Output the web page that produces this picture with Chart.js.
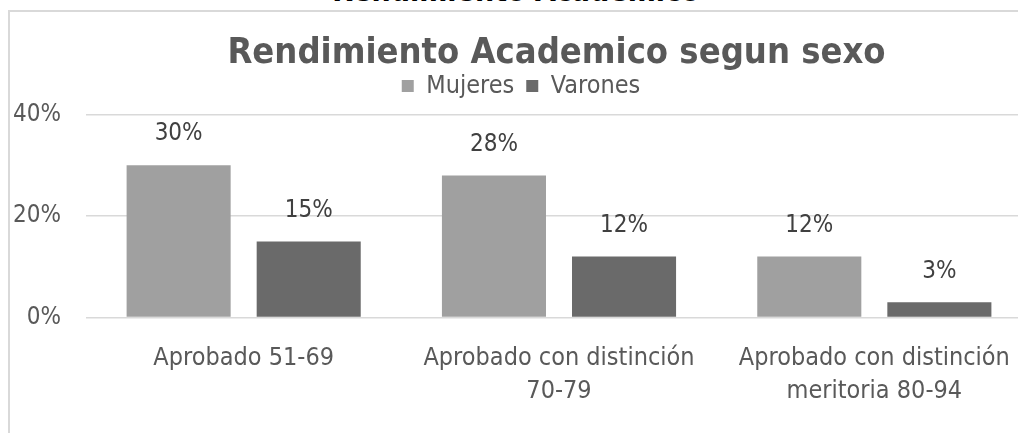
<!DOCTYPE html>
<html>
<head>
<meta charset="utf-8">
<script src="https://cdn.jsdelivr.net/npm/chart.js@4.4.1/dist/chart.umd.min.js"></script>
<style>
  html, body { margin: 0; padding: 0; background: #fff; width: 1018px; height: 433px; overflow: hidden; position: relative; }
  #toptitle { position: absolute; left: 0; top: -27px; width: 1032px; text-align: center;
    font: bold 30px "DejaVu Sans Condensed", sans-serif; color: #000; white-space: nowrap; }
  #frame { position: absolute; left: 8px; top: 10px; width: 1100px; height: 500px; border: 2px solid #d9d9d9; box-sizing: border-box; }
  #wrap { position: absolute; left: 10px; top: 12px; width: 1060px; height: 440px; }
</style>
</head>
<body>
<div id="toptitle">Rendimiento Academico</div>
<div id="frame"></div>
<div id="wrap"><canvas id="c" width="1060" height="440"></canvas></div>
<script>
const categories = [["Aprobado 51-69"], ["Aprobado con distinción", "70-79"], ["Aprobado con distinción", "meritoria 80-94"]];
const seriesNames = ["Mujeres", "Varones"];
const mujeres = [30, 28, 12];
const varones = [15, 12, 3];
const yTicks = [0, 20, 40];

const FONT = '"DejaVu Sans Condensed", sans-serif';

const labelPlugin = {
  id: 'barLabels',
  afterDatasetsDraw(chart) {
    const ctx = chart.ctx;
    ctx.save();
    ctx.font = '24px ' + FONT;
    ctx.fillStyle = '#404040';
    ctx.textAlign = 'center';
    ctx.textBaseline = 'middle';
    chart.data.datasets.forEach((ds, i) => {
      chart.getDatasetMeta(i).data.forEach((bar, j) => {
        ctx.fillText(ds.data[j] + '%', bar.x, bar.y - 31);
      });
    });
    ctx.restore();
  }
};

const boxTweaks = {
  id: 'boxTweaks',
  afterInit(chart) {
    const lg = chart.legend;
    if (lg) {
      const orig = lg.fit.bind(lg);
      lg.fit = function () { orig(); this.height = 53; };
    }
    const tb = chart.titleBlock;
    if (tb) {
      const od = tb.draw.bind(tb);
      tb.draw = function () { const c = this.ctx; c.save(); c.translate(35.5, 0); od(); c.restore(); };
    }
  }
};

new Chart(document.getElementById('c'), {
  type: 'bar',
  data: {
    labels: categories,
    datasets: [
      { label: seriesNames[0], data: mujeres, backgroundColor: '#a0a0a0', borderWidth: 0 },
      { label: seriesNames[1], data: varones, backgroundColor: '#6a6a6a', borderWidth: 0 }
    ]
  },
  options: {
    responsive: false,
    animation: false,
    events: [],
    layout: { padding: { left: 0, right: 38, top: 10, bottom: 0 } },
    datasets: { bar: { categoryPercentage: 0.825, barPercentage: 0.8 } },
    plugins: {
      title: {
        display: true,
        text: 'Rendimiento Academico segun sexo',
        color: '#595959',
        font: { family: FONT, size: 36, weight: 'bold', lineHeight: 1.2 },
        padding: { top: 10.4, bottom: -14.1 }
      },
      legend: {
        display: true,
        position: 'top',
        labels: { color: '#595959', font: { family: FONT, size: 25 }, boxWidth: 12, boxHeight: 12, padding: 12 }
      },
      tooltip: { enabled: false }
    },
    scales: {
      x: {
        grid: { display: false },
        border: { display: false },
        ticks: { color: '#595959', font: { family: FONT, size: 25, lineHeight: 1.3 }, padding: 17, maxRotation: 0, autoSkip: false },
        afterFit(s) { s.height = 134.5; }
      },
      y: {
        min: 0, max: 40,
        afterBuildTicks(s) { s.ticks = yTicks.map(v => ({ value: v })); },
        grid: { color: '#d9d9d9', lineWidth: 1.5, drawTicks: false },
        border: { display: false },
        ticks: { color: '#595959', font: { family: FONT, size: 24 }, padding: 25, callback: v => v + '%' },
        afterFit(s) { s.width = 76; }
      }
    }
  },
  plugins: [labelPlugin, boxTweaks]
});
</script>
</body>
</html>
